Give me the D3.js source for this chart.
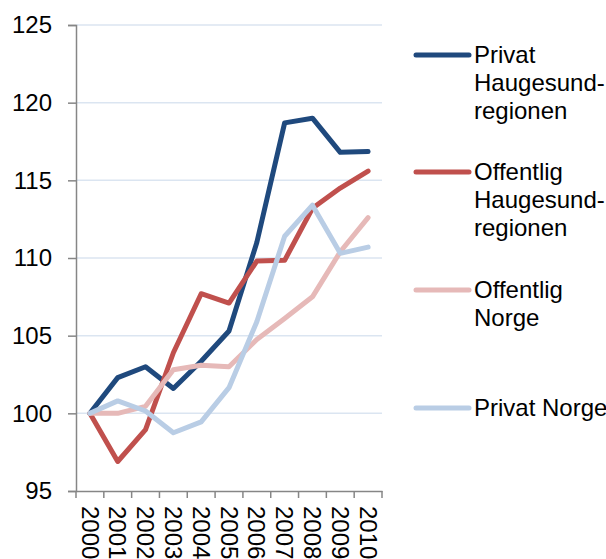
<!DOCTYPE html>
<html>
<head>
<meta charset="utf-8">
<script src="https://cdn.jsdelivr.net/npm/d3@7"></script>
<style>
  body { margin: 0; background: #fff; }
  text { font-family: "Liberation Sans", Arial, sans-serif; fill: #000; }
</style>
</head>
<body>
<div id="chart-area"></div>
<script>
var years = ["2000","2001","2002","2003","2004","2005","2006","2007","2008","2009","2010"];
var yTicks = [95, 100, 105, 110, 115, 120, 125];

var privatHaugesund   = [100, 102.3, 103.0, 101.6, 103.35, 105.3, 111.0, 118.7, 119.0, 116.8, 116.85];
var offentligHaugesund = [100, 96.9, 98.95, 103.9, 107.7, 107.1, 109.8, 109.85, 113.2, 114.5, 115.6];
var offentligNorge    = [100, 100.0, 100.45, 102.8, 103.1, 103.0, 104.75, 106.1, 107.5, 110.4, 112.6];
var privatNorge       = [100, 100.8, 100.15, 98.75, 99.45, 101.65, 105.9, 111.4, 113.4, 110.3, 110.7];

var seriesNames = [["Privat", "Haugesund-", "regionen"], ["Offentlig", "Haugesund-", "regionen"], ["Offentlig", "Norge"], ["Privat Norge"]];
var seriesValues = [privatHaugesund, offentligHaugesund, offentligNorge, privatNorge];
var seriesColors = ["#1f497d", "#c0504d", "#e6b9b8", "#b9cde5"];

var series = seriesValues.map((v, i) => ({ name: seriesNames[i], values: v, color: seriesColors[i] }));

var svg = d3.select("#chart-area")
  .append("svg")
  .attr("width", 606)
  .attr("height", 559);

var x = d3.scaleBand().domain(years).range([76, 382]);
var y = d3.scaleLinear().domain([95, 125]).range([491, 25]);

// grid
svg.append("g")
  .selectAll("line")
  .data(yTicks.slice(1))
  .enter()
  .append("line")
    .attr("x1", 76)
    .attr("x2", 382)
    .attr("y1", d => y(d))
    .attr("y2", d => y(d))
    .attr("stroke", "#dbe5f1")
    .attr("stroke-width", 1.5);

var yAxis = svg.append("g")
  .attr("transform", "translate(76,0)")
  .call(d3.axisLeft(y).tickValues(yTicks).tickSize(8).tickPadding(16));
yAxis.select(".domain").attr("stroke", "#868686").attr("stroke-width", 1.5);
yAxis.selectAll(".tick line").attr("stroke", "#868686").attr("stroke-width", 1.5);
yAxis.selectAll("text").attr("font-size", 24).attr("fill", "#000");

var xAxis = svg.append("g")
  .attr("transform", "translate(0,491)")
  .call(d3.axisBottom(x).tickSize(0).tickSizeOuter(0));
xAxis.select(".domain").attr("stroke", "#868686").attr("stroke-width", 1.5);
xAxis.selectAll(".tick line").remove();
xAxis.selectAll("text")
  .attr("font-size", 24)
  .attr("fill", "#000")
  .attr("text-anchor", "start")
  .attr("transform", "rotate(90)")
  .attr("x", 15)
  .attr("y", 0)
  .attr("dy", "0.35em");

// tick marks between categories
var bounds = years.map(d => x(d)).concat([x(years[years.length - 1]) + x.bandwidth()]);
svg.append("g")
  .selectAll("line")
  .data(bounds)
  .enter()
  .append("line")
    .attr("x1", d => d)
    .attr("x2", d => d)
    .attr("y1", 491)
    .attr("y2", 498)
    .attr("stroke", "#868686")
    .attr("stroke-width", 1.5);

var line = d3.line()
  .x((d, i) => x(years[i]) + x.bandwidth() / 2)
  .y(d => y(d));

svg.append("g")
  .selectAll("path")
  .data(series)
  .enter()
  .append("path")
    .attr("d", d => line(d.values))
    .attr("fill", "none")
    .attr("stroke", d => d.color)
    .attr("stroke-width", 5)
    .attr("stroke-linejoin", "round")
    .attr("stroke-linecap", "round");

// legend
var legendY = [55, 172, 290, 408];
var leg = svg.append("g")
  .selectAll("g")
  .data(series)
  .enter()
  .append("g")
    .attr("transform", (d, i) => "translate(0," + legendY[i] + ")");

leg.append("line")
  .attr("x1", 416)
  .attr("x2", 469)
  .attr("y1", 0)
  .attr("y2", 0)
  .attr("stroke", d => d.color)
  .attr("stroke-width", 5)
  .attr("stroke-linecap", "round");

leg.append("text")
  .attr("x", 474)
  .attr("y", 0)
  .attr("font-size", 24)
  .selectAll("tspan")
  .data(d => d.name)
  .enter()
  .append("tspan")
    .attr("x", 474)
    .attr("dy", (d, i) => i === 0 ? "0.35em" : "1.15em")
    .text(d => d);
</script>
</body>
</html>
